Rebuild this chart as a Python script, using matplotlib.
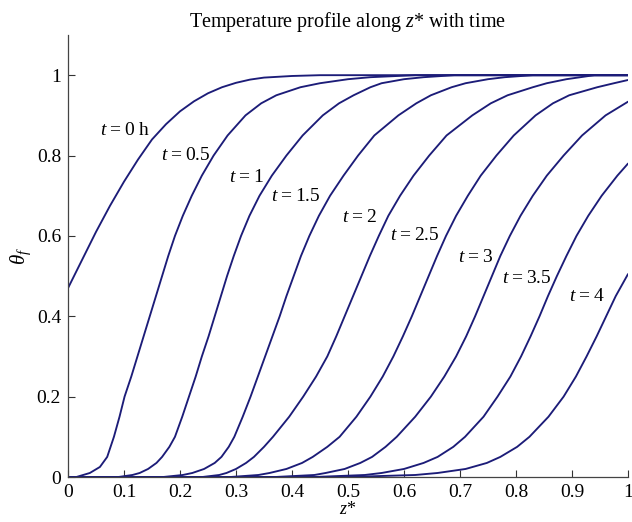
import matplotlib
matplotlib.use("Agg")
import matplotlib.pyplot as plt

plt.rcParams['font.family'] = ['Liberation Serif', 'DejaVu Serif']
plt.rcParams['mathtext.fontset'] = 'custom'
plt.rcParams['mathtext.rm'] = 'Liberation Serif'
plt.rcParams['mathtext.it'] = 'Liberation Serif:italic'
plt.rcParams['mathtext.bf'] = 'Liberation Serif:bold'

# ---- data: (z*, theta_f) per time ----
times = ['0 h', '0.5', '1', '1.5', '2', '2.5', '3', '3.5', '4']

z_t0 = [0, 0, 0.025, 0.05, 0.075, 0.1, 0.125, 0.15, 0.175, 0.2, 0.225, 0.25, 0.275, 0.3, 0.325, 0.35, 0.4, 0.45, 1.0]
y_t0 = [0, 0.47, 0.54, 0.61, 0.675, 0.735, 0.79, 0.84, 0.878, 0.91, 0.935, 0.955, 0.97, 0.981, 0.989, 0.994, 0.998, 1.0, 1.0]

z_t05 = [0, 0.015, 0.039, 0.057, 0.07, 0.076, 0.082, 0.092, 0.101, 0.113, 0.124, 0.135, 0.146, 0.157, 0.168, 0.179, 0.191,
         0.205, 0.221, 0.239, 0.26, 0.285, 0.317, 0.345, 0.372, 0.415, 0.45, 0.5, 0.54, 0.62, 1.0]
y_t05 = [0, 0, 0.01, 0.025, 0.05, 0.075, 0.1, 0.15, 0.2, 0.25, 0.3, 0.35, 0.4, 0.45, 0.5, 0.55, 0.6,
         0.65, 0.7, 0.75, 0.8, 0.85, 0.9, 0.93, 0.95, 0.97, 0.98, 0.99, 0.995, 1.0, 1.0]

z_t1 = [0, 0.09, 0.115, 0.128, 0.143, 0.158, 0.168, 0.181, 0.191, 0.204, 0.216, 0.228, 0.239, 0.251, 0.262, 0.273, 0.284,
        0.296, 0.309, 0.324, 0.342, 0.364, 0.39, 0.419, 0.455, 0.484, 0.51, 0.54, 0.56, 0.6, 0.635, 0.69, 1.0]
y_t1 = [0, 0, 0.005, 0.01, 0.02, 0.035, 0.05, 0.075, 0.1, 0.15, 0.2, 0.25, 0.3, 0.35, 0.4, 0.45, 0.5,
        0.55, 0.6, 0.65, 0.7, 0.75, 0.8, 0.85, 0.9, 0.93, 0.95, 0.97, 0.98, 0.99, 0.995, 1.0, 1.0]

z_t15 = [0, 0.17, 0.205, 0.222, 0.243, 0.262, 0.274, 0.287, 0.297, 0.312, 0.326, 0.339, 0.352, 0.365, 0.378, 0.39, 0.403,
         0.416, 0.431, 0.448, 0.468, 0.492, 0.518, 0.547, 0.59, 0.622, 0.648, 0.685, 0.71, 0.75, 0.78, 0.83, 1.0]
y_t15 = [0, 0, 0.005, 0.01, 0.02, 0.035, 0.05, 0.075, 0.1, 0.15, 0.2, 0.25, 0.3, 0.35, 0.4, 0.45, 0.5,
         0.55, 0.6, 0.65, 0.7, 0.75, 0.8, 0.85, 0.9, 0.93, 0.95, 0.97, 0.98, 0.99, 0.995, 1.0, 1.0]

z_t2 = [0, 0.24, 0.27, 0.283, 0.3, 0.318, 0.332, 0.35, 0.366, 0.395, 0.42, 0.443, 0.463, 0.479, 0.494, 0.509, 0.524,
        0.539, 0.555, 0.572, 0.593, 0.617, 0.645, 0.676, 0.722, 0.755, 0.785, 0.83, 0.855, 0.89, 0.94, 1.0]
y_t2 = [0, 0, 0.005, 0.01, 0.02, 0.035, 0.05, 0.075, 0.1, 0.15, 0.2, 0.25, 0.3, 0.35, 0.4, 0.45, 0.5,
        0.55, 0.6, 0.65, 0.7, 0.75, 0.8, 0.85, 0.9, 0.93, 0.95, 0.97, 0.98, 0.99, 1.0, 1.0]

z_t25 = [0, 0.29, 0.34, 0.36, 0.39, 0.418, 0.437, 0.463, 0.485, 0.515, 0.54, 0.562, 0.581, 0.598, 0.614, 0.629, 0.644,
         0.659, 0.675, 0.693, 0.714, 0.737, 0.765, 0.796, 0.835, 0.866, 0.895, 0.945, 0.975, 1.0]
y_t25 = [0, 0, 0.005, 0.01, 0.02, 0.035, 0.05, 0.075, 0.1, 0.15, 0.2, 0.25, 0.3, 0.35, 0.4, 0.45, 0.5,
         0.55, 0.6, 0.65, 0.7, 0.75, 0.8, 0.85, 0.9, 0.93, 0.95, 0.97, 0.98, 0.988]

z_t3 = [0, 0.37, 0.44, 0.46, 0.494, 0.522, 0.543, 0.567, 0.587, 0.62, 0.648, 0.672, 0.693, 0.711, 0.727, 0.742, 0.757,
        0.772, 0.789, 0.808, 0.83, 0.855, 0.885, 0.918, 0.96, 1.0]
y_t3 = [0, 0, 0.005, 0.01, 0.02, 0.035, 0.05, 0.075, 0.1, 0.15, 0.2, 0.25, 0.3, 0.35, 0.4, 0.45, 0.5,
        0.55, 0.6, 0.65, 0.7, 0.75, 0.8, 0.85, 0.9, 0.934]

z_t35 = [0, 0.44, 0.53, 0.56, 0.6, 0.635, 0.66, 0.688, 0.709, 0.742, 0.767, 0.79, 0.809, 0.826, 0.842, 0.857, 0.873,
         0.89, 0.908, 0.929, 0.953, 0.981, 1.0]
y_t35 = [0, 0, 0.005, 0.01, 0.02, 0.035, 0.05, 0.075, 0.1, 0.15, 0.2, 0.25, 0.3, 0.35, 0.4, 0.45, 0.5,
         0.55, 0.6, 0.65, 0.7, 0.75, 0.78]

z_t4 = [0, 0.5, 0.62, 0.66, 0.71, 0.748, 0.772, 0.802, 0.824, 0.858, 0.885, 0.907, 0.926, 0.944, 0.961, 0.978, 1.0]
y_t4 = [0, 0, 0.005, 0.01, 0.02, 0.035, 0.05, 0.075, 0.1, 0.15, 0.2, 0.25, 0.3, 0.35, 0.4, 0.45, 0.505]

curves_z = [z_t0, z_t05, z_t1, z_t15, z_t2, z_t25, z_t3, z_t35, z_t4]
curves_y = [y_t0, y_t05, y_t1, y_t15, y_t2, y_t25, y_t3, y_t35, y_t4]

# label anchor positions (data coords, text centre)
label_z = [0.102, 0.21, 0.318, 0.407, 0.521, 0.62, 0.727, 0.82, 0.926]
label_y = [0.863, 0.80, 0.746, 0.697, 0.647, 0.602, 0.547, 0.495, 0.448]

xticks = [0, 0.1, 0.2, 0.3, 0.4, 0.5, 0.6, 0.7, 0.8, 0.9, 1]
xticklabels = ['0', '0.1', '0.2', '0.3', '0.4', '0.5', '0.6', '0.7', '0.8', '0.9', '1']
yticks = [0, 0.2, 0.4, 0.6, 0.8, 1]
yticklabels = ['0', '0.2', '0.4', '0.6', '0.8', '1']

line_color = '#1c1c78'

fig = plt.figure(figsize=(6.32, 5.22), dpi=100)
ax = fig.add_axes([68 / 632, 45 / 522, 560 / 632, 442 / 522])

for zs, ys in zip(curves_z, curves_y):
    ax.plot(zs, ys, color=line_color, lw=1.35, solid_joinstyle='round', solid_capstyle='round')

for t, lz, ly in zip(times, label_z, label_y):
    ax.text(lz, ly, r'$t$' + '\u2009=\u2009' + t, ha='center', va='center', fontsize=14)

ax.set_xlim(0, 1)
ax.set_ylim(0, 1.1)
ax.set_xticks(xticks)
ax.set_xticklabels(xticklabels)
ax.set_yticks(yticks)
ax.set_yticklabels(yticklabels)
ax.tick_params(direction='in', length=5, width=0.8, labelsize=14, colors='#333333',
               labelcolor='black', pad=5)
for side in ['top', 'right']:
    ax.spines[side].set_visible(False)
for side in ['left', 'bottom']:
    ax.spines[side].set_color('#444444')
    ax.spines[side].set_linewidth(0.9)

ax.set_title(r'Temperature profile along $z$* with time', fontsize=14.5, pad=6)
ax.set_ylabel(r'$\theta_f$', fontsize=15, labelpad=3)
ax.set_xlabel(r'$z$*', fontsize=13, labelpad=0)

fig.savefig('out.png', dpi=100)
